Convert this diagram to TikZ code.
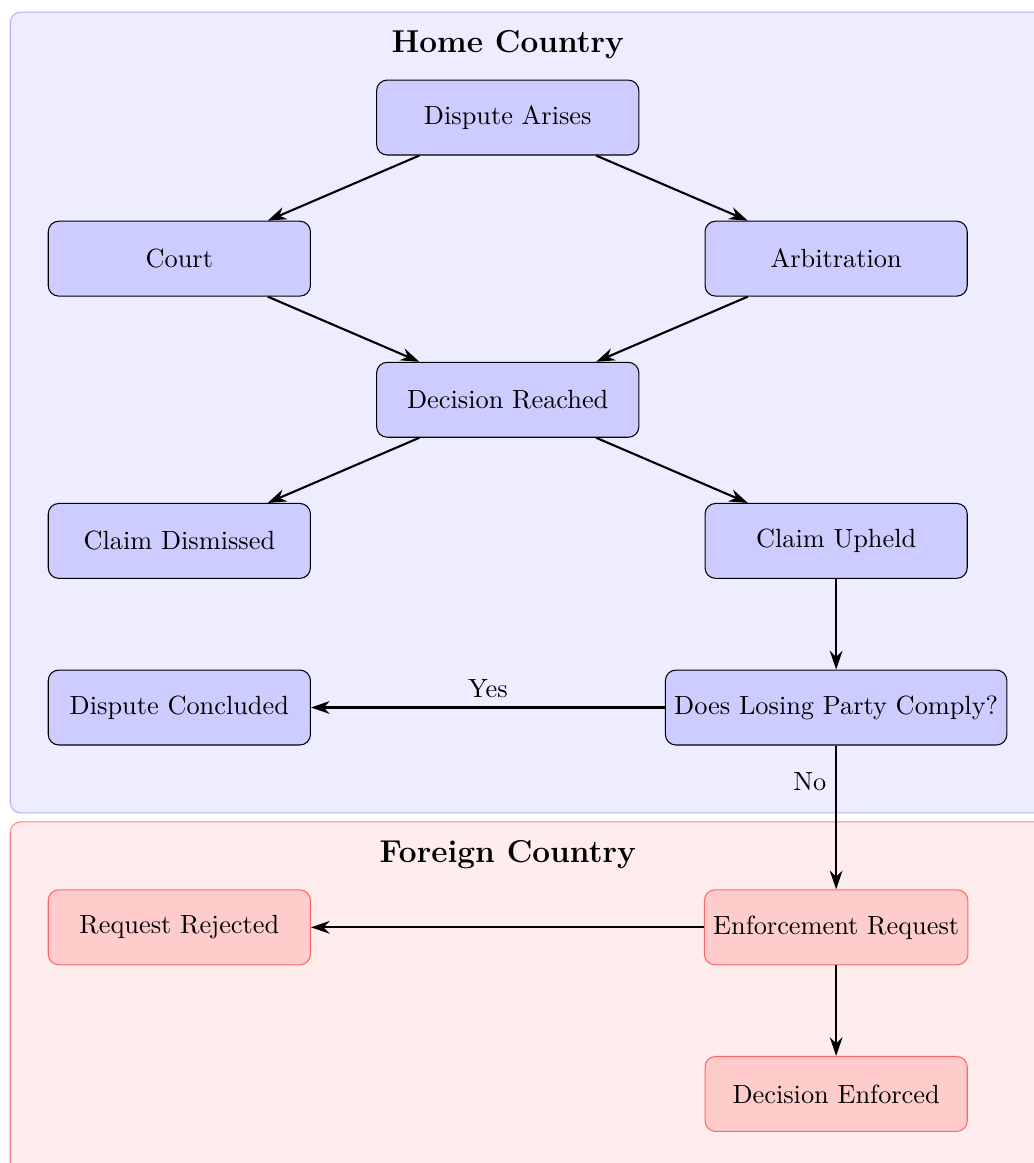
\documentclass[tikz,border=0pt]{standalone}
\usetikzlibrary{arrows.meta, positioning, fit, calc, backgrounds}

\begin{document}
\begin{tikzpicture}[
    node distance=1.23cm,
    box/.style={draw, rounded corners=4pt, minimum width=3.5cm, minimum height=1cm, align=center},
    home/.style={box, fill=blue!20},
    foreign/.style={box, fill=red!20, draw=red!60},
    region/.style={rounded corners=4pt, inner xsep=0.5cm, inner ysep=0.9cm},
    title/.style={font=\large\bfseries},
    arr/.style={-{Stealth[length=2.5mm, width=1.7mm]}, thick},
]

% Home country
\node[home] (arises) {Dispute Arises};
\node[home, below left=of arises] (court) {Court};
\node[home, below right=of arises] (arbitration) {Arbitration};
\node[home, below right=of court] (decision) {Decision Reached};
\node[home, below left=of decision] (dismissed) {Claim Dismissed};
\node[home, below right=of decision] (upheld) {Claim Upheld};
\node[home, below=1.21cm of upheld] (comply) {Does Losing Party Comply?};
\node[home, below=1.21cm of dismissed] (concluded) {Dispute Concluded};

% Foreign country
\node[foreign, below=1.92cm of comply] (request) {Enforcement Request};
\node[foreign, below=1.92cm of concluded] (rejected) {Request Rejected};
\node[foreign, below=1.21cm of request] (enforced) {Decision Enforced};

% Titles
\node[title, above=0.15cm of arises] (hometitle) {Home Country};
\coordinate (foreignmid) at ($(rejected.north)!0.5!(request.north)$);
\node[title, above=0.15cm of foreignmid] (foreigntitle) {Foreign Country};

% Regions
\begin{scope}[on background layer]
\node[region, draw=blue!30, fill=blue!7, fit=(court)(arises)(comply)] (homebox) {};
\coordinate (foreignright) at (request -| comply.east);
\node[region, draw=red!50, fill=red!7, fit=(rejected)(request)(enforced)(foreignright)] (foreignbox) {};
\end{scope}

% Arrows
\draw[arr] (arises) -- (court);
\draw[arr] (arises) -- (arbitration);
\draw[arr] (court) -- (decision);
\draw[arr] (arbitration) -- (decision);
\draw[arr] (decision) -- (dismissed);
\draw[arr] (decision) -- (upheld);
\draw[arr] (upheld) -- (comply);
\draw[arr] (comply) -- node[above] {Yes} (concluded);
\draw[arr] (comply) -- node[left, pos=0.25] {No} (request);
\draw[arr] (request) -- (rejected);
\draw[arr] (request) -- (enforced);

\pgfresetboundingbox
\useasboundingbox ($(homebox.north west)+(-0.13,0.155)$) rectangle ($(enforced.south -| comply.east)+(0.35,-0.415)$);

\end{tikzpicture}
\end{document}
